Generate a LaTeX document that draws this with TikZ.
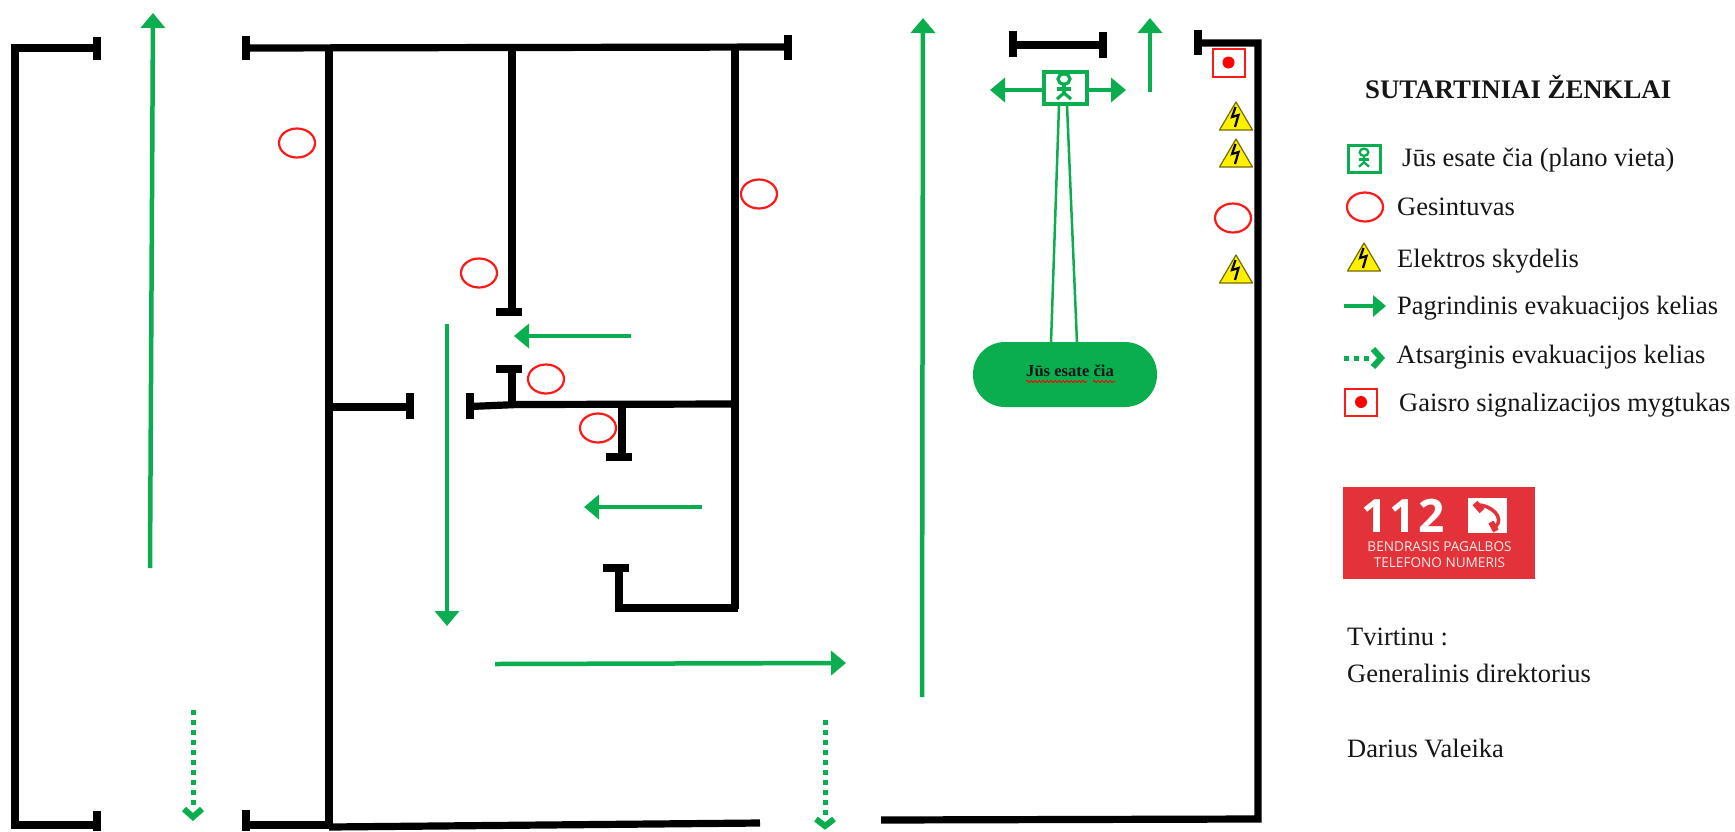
\documentclass[tikz,border=0pt]{standalone}
\usepackage{fontspec}
\setmainfont{Liberation Serif}
\newfontfamily\logofont{Open Sans}
\usetikzlibrary{arrows.meta,shapes.geometric,decorations.pathmorphing}
\definecolor{evac}{HTML}{0BAE4F}
\definecolor{alarmred}{HTML}{FF1A1A}
\definecolor{logored}{HTML}{E4323A}
\definecolor{hazy}{HTML}{FFF000}
\definecolor{ink}{HTML}{161616}
\tikzset{
  wall/.style={line width=7.2pt,black,line join=miter},
  doorcap/.style={line width=7.5pt,black},
  evacline/.style={line width=4.5pt,evac,-{Triangle[length=15pt,width=24pt]}},
  backup/.style={line width=5pt,evac,dash pattern=on 5pt off 5pt},
  chevron/.style={line width=6pt,evac,line join=miter},
  extinguisher/.style={ellipse,draw=alarmred,line width=2.2pt,fill=white,minimum width=36pt,minimum height=29pt,inner sep=0pt},
  label/.style={anchor=base west,inner sep=0pt,text=ink,font=\fontsize{26.5}{32}\selectfont},
  alarmbox/.style={draw=alarmred,line width=2pt,fill=white,inner sep=0pt},
  alarmdot/.style={circle,fill=red,inner sep=0pt,minimum size=12pt},
  herebox/.style={draw=evac,fill=white,inner sep=0pt},
  wavy/.style={red,line width=0.9pt,decorate,decoration={snake,segment length=4pt,amplitude=1pt}}
}
% small figure standing in the green box: #1 centre, #2 scale
\newcommand{\figuremark}[2]{%
  \begin{scope}[shift={#1},scale=#2,evac,line width=#2*3.2pt]
    \draw (0,-8) ellipse [x radius=6,y radius=5];
    \draw (0,-3) -- (0,6);
    \draw (-7,2) -- (7,2);
    \draw (-7,12) -- (0,6) -- (7,12);
  \end{scope}}
% danger triangle: #1 apex
\newcommand{\hazardmark}[1]{%
  \begin{scope}[shift={#1}]
    \draw[fill=hazy,draw=black!55!hazy,line width=1.2pt,line join=round] (0,0) -- (16.5,28) -- (-16.5,28) -- cycle;
    \draw[black,line width=2.2pt,line join=miter] (-0.5,5) -- (-4,15) -- (2.5,13) -- (-1,25);
  \end{scope}}
\begin{document}
\begin{tikzpicture}[x=1pt,y=-1pt]
\useasboundingbox[fill=white] (0,0) rectangle (1735,831);

% ---------- walls ----------
\draw[wall] (97,48) -- (15,48) -- (15,825) -- (97,825);
\draw[doorcap] (97,37) -- (97,60);
\draw[doorcap] (97,811) -- (97,831);
\draw[wall] (246,825) -- (329,825);
\draw[doorcap] (246,810) -- (246,831);
\draw[doorcap] (246,36) -- (246,60);
\draw[wall] (246,48) -- (788,47);
\draw[doorcap] (788,35) -- (788,60);
\draw[wall] (329,47) -- (329,828);
\draw[wall] (329,827) -- (760,823);
\draw[wall] (881,820) -- (1258,819) -- (1258,43) -- (1198,43);
\draw[doorcap] (1198,30) -- (1198,55);
\draw[wall] (1013,45) -- (1103,45);
\draw[doorcap] (1013,31) -- (1013,57);
\draw[doorcap] (1103,32) -- (1103,58);
\draw[wall] (735,46) -- (735,609);
\draw[wall] (738,608) -- (619,608) -- (619,568);
\draw[doorcap] (603,568) -- (629,568);
\draw[wall] (512,47) -- (512,312);
\draw[doorcap] (496,312) -- (522,312);
\draw[wall] (735,404) -- (517,404.5) -- (470,406.5);
\draw[doorcap] (470,393) -- (470,419);
\draw[wall] (329,407) -- (410,407);
\draw[doorcap] (410,393) -- (410,419);
\draw[wall] (512,405) -- (512,369);
\draw[doorcap] (496,369) -- (522,369);
\draw[wall] (622,404) -- (622,457);
\draw[doorcap] (606,457) -- (632,457);

% ---------- evacuation arrows ----------
\draw[evacline] (150,568) -- (153,13);
\draw[evacline] (922,697) -- (923,18);
\draw[evacline] (1150,92) -- (1150,18);
\draw[evacline] (447,324) -- (447,626);
\draw[evacline] (631,336) -- (514,336);
\draw[evacline] (702,507) -- (584,507);
\draw[evacline] (495,664) -- (846,663);
\draw[backup] (193,710) -- (193,808);
\draw[chevron] (184,809) -- (193,817) -- (202,809);
\draw[backup] (825,720) -- (825,817);
\draw[chevron] (816,819) -- (825,826) -- (834,819);

% ---------- extinguishers ----------
\node[extinguisher] (ext1) at (297,143) {};
\node[extinguisher] (ext2) at (759,194) {};
\node[extinguisher] (ext3) at (479,273) {};
\node[extinguisher] (ext4) at (546,379) {};
\node[extinguisher] (ext5) at (598,428) {};
\node[extinguisher] (ext6) at (1233,218) {};

% ---------- alarm and electrical panels ----------
\node[alarmbox,minimum width=32pt,minimum height=28pt] (alarm1) at (1228.5,62.5) {};
\node[alarmdot] (alarm1dot) at (alarm1.center) {};
\hazardmark{(1236,102)}
\hazardmark{(1236,139)}
\hazardmark{(1236,255)}

% ---------- "you are here" ----------
\coordinate (hereL1) at (1059,105);
\coordinate (hereR1) at (1067,105);
\coordinate (pillL) at (1051,343);
\coordinate (pillR) at (1077,343);
\coordinate (exitL) at (990,90);
\coordinate (exitR) at (1126,90);
\draw[evac,line width=2.5pt] (hereL1) -- (pillL);
\draw[evac,line width=2.5pt] (hereR1) -- (pillR);
\node[herebox,line width=4pt,minimum width=43pt,minimum height=32pt] (here) at (1065,87.5) {};
\draw[evacline] (here.west |- exitL) -- (exitL);
\draw[evacline] (here.east |- exitR) -- (exitR);
\figuremark{(1064,87)}{1}
\node[fill=evac,rounded corners=32pt,minimum width=184pt,minimum height=65pt,inner sep=0pt] (pill) at (1065,374.5) {};
\node[inner sep=0pt,anchor=base west,font=\bfseries\fontsize{16.6}{20}\selectfont,text=ink] (pilltext) at (1026,376) {Jūs esate čia};
\draw[wavy] (1026,381.5) -- (1087,381.5);
\draw[wavy] (1093,381.5) -- (1115,381.5);

% ---------- legend ----------
\node[label,font=\bfseries\fontsize{26.8}{32}\selectfont] (title) at (1365,98) {SUTARTINIAI ŽENKLAI};
\node[herebox,line width=3pt,minimum width=32pt,minimum height=27pt] (leg1) at (1364.5,158.5) {};
\figuremark{(1364,158)}{0.72}
\node[label] (leg1t) at (1402,166) {Jūs esate čia (plano vieta)};
\node[extinguisher] (leg2) at (1365,207) {};
\node[label] (leg2t) at (1397,215) {Gesintuvas};
\hazardmark{(1364,243)}
\node[label] (leg3t) at (1397,267) {Elektros skydelis};
\coordinate (legA1) at (1344,306);
\coordinate (legA2) at (1386,306);
\draw[line width=4.5pt,evac,-{Triangle[length=13pt,width=21pt]}] (legA1) -- (legA2);
\node[label] (leg4t) at (1397,314) {Pagrindinis evakuacijos kelias};
\coordinate (legB1) at (1344,358);
\coordinate (legB2) at (1371,358);
\draw[backup] (legB1) -- (legB2);
\draw[chevron] (1373,349) -- (1381,358) -- (1373,367);
\node[label] (leg5t) at (1396.5,363) {Atsarginis evakuacijos kelias};
\node[alarmbox,minimum width=32pt,minimum height=27pt] (leg6) at (1361,402) {};
\node[alarmdot] (leg6dot) at (leg6.center) {};
\node[label] (leg6t) at (1399,411) {Gaisro signalizacijos mygtukas};

% ---------- 112 logo ----------
\node[fill=logored,minimum width=192pt,minimum height=92pt,inner sep=0pt] (logo) at (1439,533) {};
\node[anchor=base west,inner sep=0pt,text=white,font=\logofont\bfseries\fontsize{46}{48}\selectfont\addfontfeature{LetterSpace=5}] (num) at (1361,532) {112};
\node[fill=white,minimum width=39pt,minimum height=35pt,inner sep=0pt] (phone) at (1487.5,515.5) {};
\draw[logored,line width=3.5pt,line cap=round] (1477,505) .. controls (1490,504) and (1506,518) .. (1495,527);
\draw[logored,line width=6.5pt,line cap=butt] (1475,503) -- (1482,511);
\draw[logored,line width=6pt,line cap=butt] (1491,522) -- (1496,531);
\node[anchor=base,inner sep=0pt,text=white!90!logored,font=\logofont\fontsize{13.6}{16}\selectfont] (logo1) at (1439.5,551) {BENDRASIS PAGALBOS};
\node[anchor=base,inner sep=0pt,text=white!90!logored,font=\logofont\fontsize{13.6}{16}\selectfont] (logo2) at (1439.5,567) {TELEFONO NUMERIS};

% ---------- signature ----------
\node[label] (sig1) at (1347,645) {Tvirtinu :};
\node[label] (sig2) at (1347,682) {Generalinis direktorius};
\node[label] (sig3) at (1347,757) {Darius Valeika};
\end{tikzpicture}
\end{document}
